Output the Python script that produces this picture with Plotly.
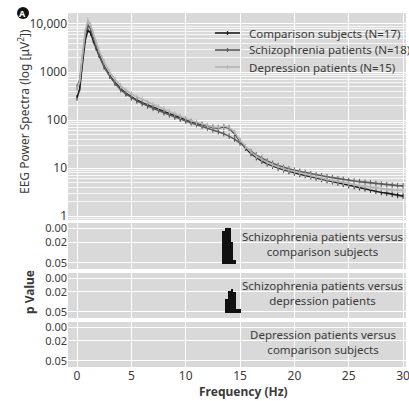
import plotly.graph_objects as go

# ---------------- data ----------------
freq = [0, 0.25, 0.5, 0.75, 1, 1.25, 1.5, 1.75, 2, 2.5, 3, 3.5, 4, 4.5, 5, 5.5, 6, 6.5, 7, 7.5,
        8, 8.5, 9, 9.5, 10, 10.5, 11, 11.5, 12, 12.5, 13, 13.5, 14, 14.5, 15, 15.5, 16, 16.5,
        17, 17.5, 18, 18.5, 19, 19.5, 20, 20.5, 21, 21.5, 22, 22.5, 23, 23.5, 24, 24.5, 25,
        25.5, 26, 26.5, 27, 27.5, 28, 28.5, 29, 29.5, 30]

comparison = [290, 450, 1500, 4500, 7500, 6500, 4500, 3200, 2300, 1300, 850, 600, 450, 360, 300,
              260, 230, 205, 185, 165, 150, 135, 122, 110, 100, 92, 86, 80, 75, 70, 68, 72, 68,
              52, 36, 26, 20, 16.5, 14, 12.3, 11, 10, 9.2, 8.5, 7.9, 7.4, 7.0, 6.6, 6.2, 5.8,
              5.5, 5.2, 4.9, 4.6, 4.3, 4.1, 3.9, 3.7, 3.5, 3.3, 3.1, 3.0, 2.85, 2.7, 2.6]

schizophrenia = [480, 700, 2000, 6000, 9500, 8000, 5200, 3500, 2400, 1300, 820, 580, 430, 350,
                 290, 250, 220, 195, 175, 158, 142, 128, 115, 104, 95, 87, 80, 74, 68, 62, 57,
                 52, 46, 40, 33, 27, 22, 18.5, 16, 14, 12.5, 11.3, 10.3, 9.6, 9.0, 8.5, 8.0,
                 7.6, 7.2, 6.9, 6.6, 6.3, 6.0, 5.8, 5.5, 5.35, 5.2, 5.05, 4.9, 4.75, 4.6, 4.5,
                 4.4, 4.3, 4.25]

depression = [450, 650, 2200, 7000, 12000, 9500, 6200, 4200, 2900, 1600, 1000, 700, 520, 420,
              350, 300, 270, 235, 210, 188, 168, 150, 135, 120, 108, 97, 90, 83, 77, 72, 70, 74,
              70, 55, 38, 28, 21.5, 17.5, 15, 13, 11.6, 10.5, 9.7, 9.0, 8.4, 7.8, 7.3, 6.9,
              6.5, 6.1, 5.8, 5.5, 5.2, 4.95, 4.7, 4.5, 4.3, 4.15, 4.0, 3.85, 3.7, 3.6, 3.5,
              3.45, 3.4]

series_names = ["Comparison subjects (N=17)", "Schizophrenia patients (N=18)",
                "Depression patients (N=15)"]

# p-value bins (Hz) and p values
p1_freq = [13.5, 13.75, 14.0, 14.25, 14.5]
p1_vals = [0.003, 0.0, 0.0, 0.02, 0.046]
p2_freq = [13.75, 14.0, 14.25, 14.5, 14.75, 15.0]
p2_vals = [0.031, 0.019, 0.016, 0.021, 0.046, 0.046]
p3_freq = []
p3_vals = []
p_base = 0.052

panel_labels = ["Schizophrenia patients versus<br>comparison subjects",
                "Schizophrenia patients versus<br>depression patients",
                "Depression patients versus<br>comparison subjects"]

power_ticks = [1, 10, 100, 1000, 10000]
power_ticktext = ["1", "10", "100", "1000", "10,000"]
p_ticks = [0, 0.02, 0.05]
p_ticktext = ["0.00", "0.02", "0.05"]
x_ticks = [0, 5, 10, 15, 20, 25, 30]

# ---------------- figure ----------------
FONT = "Noto Sans"
TXT = "#3a3a3a"
colors = ["#1c1c1c", "#5a5a5a", "#b4b4b4"]

W, H = 409, 401
ML, MR, MT, MB = 68, 3, 13, 34
PW, PH = W - ML - MR, H - MT - MB


def px_x(p):
    return (p - ML) / PW


def px_y(p):
    return (H - MB - p) / PH


fig = go.Figure()
for name, vals, col in zip(series_names, [comparison, schizophrenia, depression], colors):
    fig.add_trace(go.Scatter(
        x=freq, y=vals, name=name, mode="lines+markers",
        line=dict(color=col, width=1.6),
        marker=dict(symbol="line-ns", size=4, line=dict(color=col, width=1)),
        showlegend=False, xaxis="x", yaxis="y"))

for i, (pf, pv) in enumerate([(p1_freq, p1_vals), (p2_freq, p2_vals), (p3_freq, p3_vals)]):
    fig.add_trace(go.Bar(
        x=pf, y=[v - p_base for v in pv], base=[p_base] * len(pv), width=0.25,
        marker=dict(color="#111111", line=dict(width=0)), showlegend=False,
        xaxis="x%d" % (i + 2), yaxis="y%d" % (i + 2)))

grid = dict(showgrid=True, gridcolor="white", gridwidth=1.2, zeroline=False,
            showline=False, ticks="", automargin=False)
xr = [-0.83, 30.27]
domains = [[px_y(220), 1.0], [px_y(269), px_y(223)], [px_y(318), px_y(273)], [0.0, px_y(322)]]

layout = dict(
    width=W, height=H, autosize=False,
    margin=dict(l=ML, r=MR, t=MT, b=MB, pad=0),
    paper_bgcolor="white", plot_bgcolor="#d9d9d9",
    font=dict(family=FONT, size=12, color=TXT),
    showlegend=False,
    bargap=0,
)
for i in range(4):
    sfx = "" if i == 0 else str(i + 1)
    xa = dict(grid, domain=[0, 1], range=xr, anchor="y" + sfx, tickvals=x_ticks,
              showticklabels=(i == 3), tickfont=dict(size=12, color=TXT),
              ticklabeloverflow="allow")
    if i > 0:
        xa["matches"] = "x"
    layout["xaxis" + sfx] = xa

layout["yaxis"] = dict(grid, domain=domains[0], type="log", range=[-0.083, 4.229],
                       tickvals=power_ticks, ticktext=power_ticktext,
                       minor=dict(showgrid=True, gridcolor="rgba(255,255,255,0.8)",
                                  gridwidth=0.8, dtick="D1"),
                       tickfont=dict(size=12, color=TXT), anchor="x")
for i in range(1, 4):
    layout["yaxis%d" % (i + 1)] = dict(grid, domain=domains[i], range=[0.059, -0.008],
                                       tickvals=p_ticks, ticktext=p_ticktext,
                                       tickfont=dict(size=11, color=TXT),
                                       anchor="x%d" % (i + 1))

fig.update_layout(**layout)

# manual legend
leg_rows = [33, 50, 67]
for name, col, yy in zip(series_names, colors, leg_rows):
    fig.add_shape(type="line", xref="paper", yref="paper",
                  x0=px_x(215), x1=px_x(240), y0=px_y(yy), y1=px_y(yy),
                  line=dict(color=col, width=1.6))
    fig.add_shape(type="line", xref="paper", yref="paper",
                  x0=px_x(227.5), x1=px_x(227.5), y0=px_y(yy - 2), y1=px_y(yy + 2),
                  line=dict(color=col, width=1.2))
    fig.add_annotation(text=name, x=px_x(247), y=px_y(yy), xref="paper", yref="paper",
                       showarrow=False, xanchor="left", yanchor="middle",
                       font=dict(size=11.5, color=TXT))

# panel labels
for i, lab in enumerate(panel_labels):
    fig.add_annotation(x=22.6, y=0.0225, xref="x%d" % (i + 2), yref="y%d" % (i + 2),
                       text=lab, showarrow=False, font=dict(size=11.5, color=TXT),
                       align="center")

# axis titles
fig.add_annotation(text="EEG Power Spectra (log [μV<sup>2</sup>])", textangle=-90,
                   x=px_x(24), y=px_y(112), xref="paper", yref="paper", showarrow=False,
                   xanchor="center", yanchor="middle", font=dict(size=12, color=TXT))
fig.add_annotation(text="<b>p Value</b>", textangle=-90,
                   x=px_x(29), y=px_y(292), xref="paper", yref="paper", showarrow=False,
                   xanchor="center", yanchor="middle", font=dict(size=12, color=TXT))
fig.add_annotation(text="<b>Frequency (Hz)</b>", x=px_x(243), y=px_y(391), xref="paper",
                   yref="paper", showarrow=False, xanchor="center", yanchor="middle",
                   font=dict(size=12, color=TXT))

# panel badge "A"
fig.add_shape(type="circle", xref="paper", yref="paper",
              x0=px_x(17), x1=px_x(29), y0=px_y(19), y1=px_y(7),
              fillcolor="#111111", line=dict(width=0))
fig.add_annotation(text="<b>A</b>", x=px_x(23), y=px_y(13), xref="paper", yref="paper",
                   showarrow=False, font=dict(size=9, color="white"),
                   xanchor="center", yanchor="middle")

fig.write_html("out.html")
